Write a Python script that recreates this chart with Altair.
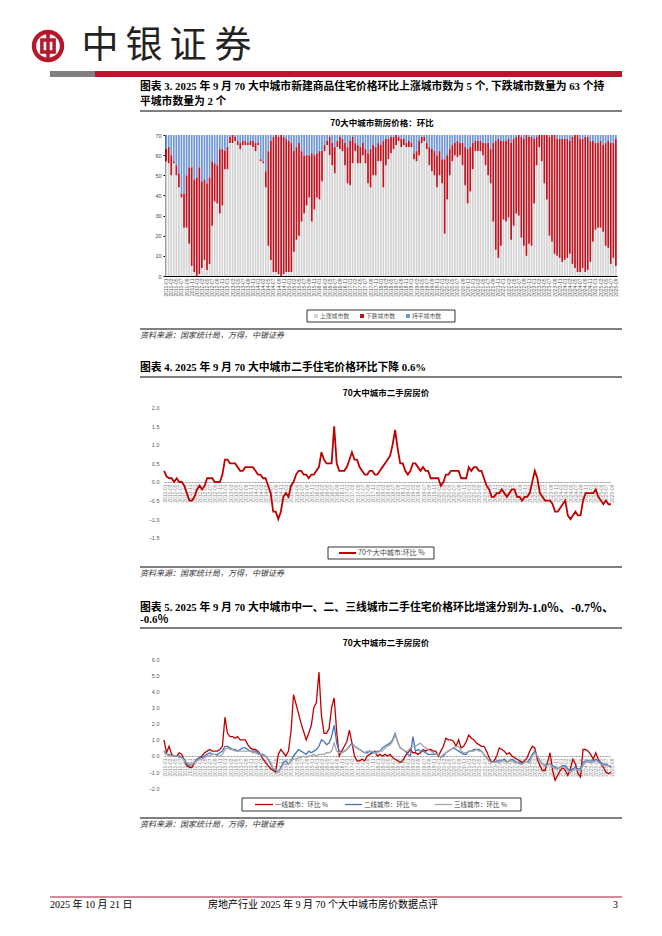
import altair as alt
import pandas as pd

# ---------------- data ----------------
months = [f"{y}-{m:02d}" for y in range(2011, 2026) for m in range(1, 13)][:177]

# Chart 1: number of cities (rising / falling / flat), monthly 2011-01 .. 2025-09
rise_cnt = [
    57, 56, 50, 56, 50, 44, 39, 24, 24, 16, 5, 2,
    0, 1, 4, 8, 3, 6, 25, 37, 36, 31, 35, 53,
    53, 66, 66, 67, 65, 63, 65, 65, 65, 65, 64, 62,
    65, 57, 56, 44, 15, 8, 2, 2, 1, 0, 1, 2,
    2, 2, 12, 18, 20, 27, 31, 35, 39, 27, 33, 39,
    38, 47, 62, 65, 60, 55, 51, 64, 63, 62, 55, 46,
    45, 56, 62, 56, 56, 60, 56, 46, 44, 50, 50, 57,
    57, 44, 55, 58, 61, 63, 65, 67, 64, 65, 64, 64,
    64, 58, 57, 60, 66, 67, 63, 55, 52, 50, 44, 50,
    46, 21, 38, 50, 57, 60, 59, 60, 55, 45, 36, 42,
    53, 62, 62, 62, 60, 55, 50, 46, 27, 13, 9, 15,
    28, 27, 29, 18, 25, 31, 30, 19, 15, 10, 16, 15,
    36, 55, 64, 57, 46, 38, 20, 17, 11, 10, 9, 7,
    8, 9, 11, 6, 4, 2, 2, 4, 2, 3, 7, 17,
    23, 24, 24, 22, 15, 14, 6, 9, 5,
]
fall_cnt = [
    6, 8, 10, 1, 5, 7, 2, 17, 26, 38, 49, 46,
    49, 53, 43, 40, 43, 43, 32, 19, 19, 32, 28, 9,
    11, 3, 4, 2, 2, 3, 2, 2, 1, 2, 3, 4,
    1, 1, 1, 8, 47, 59, 67, 68, 68, 70, 68, 66,
    65, 64, 50, 46, 46, 35, 29, 25, 21, 34, 27, 22,
    24, 15, 3, 2, 9, 11, 13, 3, 6, 6, 11, 18,
    22, 13, 4, 9, 8, 6, 7, 15, 19, 15, 14, 9,
    8, 23, 13, 10, 8, 6, 5, 2, 4, 3, 2, 3,
    2, 3, 5, 7, 3, 2, 3, 9, 11, 12, 16, 12,
    12, 37, 22, 13, 8, 6, 8, 6, 11, 19, 27, 22,
    13, 5, 5, 5, 6, 11, 16, 17, 39, 54, 59, 52,
    39, 40, 39, 48, 43, 38, 40, 50, 53, 60, 53, 54,
    32, 14, 6, 13, 24, 32, 49, 53, 59, 58, 59, 61,
    60, 59, 56, 63, 66, 68, 66, 64, 67, 66, 60, 50,
    43, 42, 43, 43, 51, 53, 60, 57, 63,
]
flat_cnt = [
    7, 6, 10, 13, 15, 19, 29, 29, 20, 16, 16, 22,
    21, 16, 23, 22, 24, 21, 13, 14, 15, 7, 7, 8,
    6, 1, 0, 1, 3, 4, 3, 3, 4, 3, 3, 4,
    4, 12, 13, 18, 8, 3, 1, 0, 1, 0, 1, 2,
    3, 4, 8, 6, 4, 8, 10, 10, 10, 9, 10, 9,
    8, 8, 5, 3, 1, 4, 6, 3, 1, 2, 4, 6,
    3, 1, 4, 5, 6, 4, 7, 9, 7, 5, 6, 4,
    5, 3, 2, 2, 1, 1, 0, 1, 2, 2, 4, 3,
    4, 9, 8, 3, 1, 1, 4, 6, 7, 8, 10, 8,
    12, 12, 10, 7, 5, 4, 3, 4, 4, 6, 7, 6,
    4, 3, 3, 3, 4, 4, 4, 7, 4, 3, 2, 3,
    3, 3, 2, 4, 2, 1, 0, 1, 2, 0, 1, 1,
    2, 1, 0, 0, 0, 0, 1, 0, 0, 2, 2, 2,
    2, 2, 3, 1, 0, 0, 2, 2, 1, 1, 3, 3,
    4, 4, 3, 5, 4, 3, 4, 4, 2,
]

# Chart 2: 70-city second-hand price MoM %
national = [
    0.3, 0.15, 0.1, 0.1, 0.0, 0.1, 0.0, 0.0, -0.1, -0.3, -0.5, -0.5,
    -0.4, -0.2, -0.1, -0.2, -0.1, 0.1, 0.1, 0.1, 0.0, 0.0, 0.0, 0.2,
    0.6, 0.6, 0.5, 0.5, 0.5, 0.4, 0.3, 0.3, 0.4, 0.4, 0.4, 0.4,
    0.3, 0.2, 0.2, 0.1, 0.1, -0.1, -0.3, -0.8, -0.8, -1.0, -0.8, -0.4,
    -0.3, -0.4, -0.1, 0.0, 0.2, 0.3, 0.3, 0.2, 0.2, 0.1, 0.2, 0.2,
    0.3, 0.4, 0.8, 0.6, 0.5, 0.5, 0.5, 1.5, 0.5, 0.3, 0.3, 0.3,
    0.4, 0.6, 0.8, 0.6, 0.6, 0.4, 0.3, 0.2, 0.2, 0.3, 0.3, 0.2,
    0.2, 0.3, 0.4, 0.5, 0.6, 0.7, 1.0, 1.4, 0.9, 0.5, 0.5, 0.3,
    0.2, 0.3, 0.5, 0.5, 0.4, 0.3, 0.4, 0.3, 0.3, 0.1, 0.1, 0.1,
    0.1, -0.1, 0.0, 0.2, 0.2, 0.3, 0.3, 0.3, 0.3, 0.1, 0.1, 0.1,
    0.4, 0.3, 0.4, 0.4, 0.3, 0.3, 0.1, -0.1, -0.2, -0.4, -0.4, -0.3,
    -0.3, -0.2, -0.3, -0.4, -0.3, -0.2, -0.2, -0.4, -0.4, -0.5, -0.4, -0.4,
    -0.3, 0.0, 0.3, 0.1, -0.3, -0.4, -0.5, -0.5, -0.5, -0.6, -0.8, -0.8,
    -0.7, -0.6, -0.5, -0.9, -1.0, -0.9, -0.8, -0.9, -0.9, -0.5, -0.3, -0.3,
    -0.3, -0.3, -0.2, -0.4, -0.5, -0.6, -0.5, -0.6, -0.6,
]

# Chart 3: tier 1 / 2 / 3 second-hand price MoM %
tier1 = [
    1.0, 0.2, 0.6, 0.1, 0.0, 0.0, 0.2, 0.1, -0.3, -0.6, -0.7, -0.7,
    -0.4, -0.2, -0.1, 0.0, 0.2, 0.3, 0.4, 0.3, 0.3, 0.3, 0.4, 0.6,
    2.4, 1.4, 1.2, 1.2, 1.1, 1.2, 1.0, 1.0, 1.0, 0.7, 0.5, 0.4,
    0.4, 0.3, 0.1, -0.2, -0.4, -0.6, -0.8, -0.9, -1.0, 0.1, 0.4, 0.2,
    0.0, 0.3, 1.5, 3.8, 3.2, 2.6, 2.0, 1.5, 1.0, 1.4, 1.9, 3.0,
    3.3, 5.2, 2.5, 1.4, 1.4, 1.7, 3.0, 3.6, 1.5, 0.0, 0.3, 0.6,
    0.9, 1.6, 0.8, 0.0, -0.3, -0.3, -0.2, -0.3, 0.0, 0.1, 0.2, 0.3,
    0.0, 0.1, 0.0, 0.1, 0.0, 0.1, -0.1, -0.2, -0.3, -0.4, -0.3, 0.0,
    0.2, 0.4, 0.2, 0.2, 0.1, 0.2, 0.4, 0.3, 0.4, 0.4, 0.3, 0.3,
    0.0, 0.3, 0.6, 1.1, 1.0, 1.0, 0.9, 0.6, 1.0, 0.5, 0.6, 0.9,
    1.3, 1.1, 1.0, 0.8, 0.7, 0.6, 0.6, 0.3, -0.1, -0.4, -0.3, 0.0,
    0.5, 0.4, 0.3, 0.1, 0.2, 0.0, -0.1, -0.2, -0.3, -0.4, -0.3, -0.1,
    0.3, 0.6, 0.5, -0.2, -0.6, -0.9, -0.9, -0.4, 0.2, -0.9, -1.5, -1.2,
    -0.9, -0.7, -0.9, -1.2, -0.8, -0.2, -0.5, -1.1, -1.3, 0.4, 0.4, 0.3,
    0.1, -0.2, 0.2, -0.2, -0.5, -0.7, -1.0, -1.1, -1.0,
]
tier2 = [
    0.3, 0.1, 0.1, 0.0, 0.0, 0.0, 0.0, -0.1, -0.2, -0.5, -0.6, -0.5,
    -0.4, -0.2, -0.1, -0.1, 0.0, 0.1, 0.2, 0.1, 0.1, 0.1, 0.2, 0.3,
    0.6, 0.6, 0.5, 0.4, 0.4, 0.3, 0.4, 0.5, 0.5, 0.4, 0.3, 0.3,
    0.3, 0.2, 0.1, 0.1, 0.0, -0.2, -0.5, -0.8, -0.9, -1.0, -0.7, -0.4,
    -0.3, -0.5, -0.3, 0.0, 0.2, 0.4, 0.3, 0.2, 0.1, 0.3, 0.2, 0.3,
    0.4, 0.6, 1.0, 0.9, 0.7, 0.8, 1.2, 1.9, 0.8, 0.3, 0.2, 0.3,
    0.4, 0.6, 0.8, 0.6, 0.5, 0.4, 0.3, 0.2, 0.2, 0.3, 0.2, 0.2,
    0.3, 0.3, 0.5, 0.6, 0.7, 0.8, 1.0, 1.4, 0.9, 0.5, 0.4, 0.3,
    0.1, 0.0, 1.2, 0.3, 0.4, 0.3, 0.3, 0.2, 0.1, 0.1, 0.1, 0.1,
    0.1, -0.1, 0.0, 0.2, 0.3, 0.4, 0.5, 0.4, 0.3, 0.2, 0.1, 0.1,
    0.3, 0.3, 0.4, 0.4, 0.4, 0.3, 0.1, -0.1, -0.3, -0.4, -0.4, -0.3,
    -0.3, -0.3, -0.2, -0.4, -0.3, -0.2, -0.3, -0.4, -0.4, -0.5, -0.4, -0.4,
    -0.2, 0.1, 0.3, 0.0, -0.3, -0.5, -0.6, -0.5, -0.5, -0.6, -0.7, -0.8,
    -0.7, -0.6, -0.6, -0.8, -0.9, -0.8, -0.7, -0.8, -0.8, -0.4, -0.3, -0.3,
    -0.3, -0.3, -0.2, -0.3, -0.4, -0.5, -0.5, -0.6, -0.7,
]
tier3 = [
    0.2, 0.1, 0.0, 0.0, 0.0, 0.0, -0.1, -0.1, -0.3, -0.4, -0.5, -0.5,
    -0.4, -0.3, -0.2, -0.2, -0.1, 0.0, 0.0, 0.1, 0.1, 0.0, 0.0, 0.1,
    0.4, 0.5, 0.4, 0.4, 0.3, 0.3, 0.3, 0.3, 0.3, 0.3, 0.3, 0.2,
    0.2, 0.1, 0.1, 0.0, 0.0, -0.2, -0.4, -0.8, -0.8, -1.0, -0.8, -0.5,
    -0.5, -0.5, -0.3, -0.2, -0.2, -0.1, -0.1, 0.0, -0.1, 0.0, 0.0, 0.1,
    0.0, 0.1, 0.1, 0.1, 0.2, 0.2, 0.3, 0.8, 0.3, 0.2, 0.2, 0.3,
    0.4, 0.6, 0.7, 0.6, 0.5, 0.4, 0.3, 0.2, 0.3, 0.3, 0.3, 0.2,
    0.2, 0.3, 0.3, 0.5, 0.6, 0.7, 0.9, 1.3, 0.9, 0.5, 0.4, 0.3,
    0.3, 0.5, 0.6, 0.6, 0.7, 0.8, 0.6, 0.5, 0.4, 0.3, 0.2, 0.1,
    0.1, -0.1, 0.1, 0.2, 0.3, 0.4, 0.5, 0.6, 0.6, 0.3, 0.2, 0.2,
    0.3, 0.3, 0.3, 0.4, 0.3, 0.3, 0.1, -0.1, -0.3, -0.4, -0.4, -0.4,
    -0.4, -0.3, -0.3, -0.4, -0.3, -0.3, -0.4, -0.4, -0.5, -0.5, -0.4, -0.4,
    -0.4, 0.0, 0.2, 0.0, -0.3, -0.5, -0.6, -0.6, -0.5, -0.7, -0.8, -0.8,
    -0.7, -0.7, -0.7, -0.9, -1.0, -0.9, -0.8, -0.9, -0.9, -0.6, -0.4, -0.4,
    -0.4, -0.4, -0.3, -0.4, -0.5, -0.6, -0.6, -0.6, -0.6,
]

for s in (rise_cnt, fall_cnt, flat_cnt, national, tier1, tier2, tier3):
    assert len(s) == len(months), len(s)

bar_types = ["上涨城市数", "下跌城市数", "持平城市数"]
bar_colors = ["#d3d3d3", "#c0131f", "#7196d4"]
tier_names = ["一线城市：环比 %", "二线城市：环比 %", "三线城市：环比 %"]
tier_colors = ["#c00000", "#4472c4", "#a6a6a6"]

# ---------------- styles ----------------
SERIF = "Liberation Serif, Noto Sans CJK SC"
CJK = "Noto Sans CJK SC"
RED = "#b5172b"
W = 646
XLAB = 5


def txt(s, x, y, size, weight="normal", align="left", color="#000", font=SERIF, style="normal"):
    return alt.Chart(pd.DataFrame({"t": [s]})).mark_text(
        align=align, baseline="middle", fontSize=size, fontWeight=weight,
        font=font, color=color, fontStyle=style
    ).encode(x=alt.value(x), y=alt.value(y), text="t:N")


def rule(x1, y1, x2, y2, color="#000", width=1.0):
    return alt.Chart(pd.DataFrame({"a": [0]})).mark_rule(color=color, strokeWidth=width).encode(
        x=alt.value(x1), x2=alt.value(x2), y=alt.value(y1), y2=alt.value(y2))


def rect(x1, y1, x2, y2, fill, stroke=None, sw=0.0):
    kw = dict(fill=fill, strokeWidth=sw)
    if stroke:
        kw["stroke"] = stroke
    return alt.Chart(pd.DataFrame({"a": [0]})).mark_rect(**kw).encode(
        x=alt.value(x1), x2=alt.value(x2), y=alt.value(y1), y2=alt.value(y2))


def dot(x, y, size, color, filled=True, shape="circle", sw=1.0):
    return alt.Chart(pd.DataFrame({"a": [0]})).mark_point(
        shape=shape, filled=filled, size=size, color=color, opacity=1, strokeWidth=sw
    ).encode(x=alt.value(x), y=alt.value(y))


SOURCE = "资料来源：国家统计局，万得，中银证券"

# ---------------- row 1: header + chart 1 ----------------
H1 = 332
long1 = pd.DataFrame({
    "month": months * 3,
    "type": [bar_types[0]] * 177 + [bar_types[1]] * 177 + [bar_types[2]] * 177,
    "ord": [0] * 177 + [1] * 177 + [2] * 177,
    "count": rise_cnt + fall_cnt + flat_cnt,
})

bars = alt.Chart(long1).mark_bar().encode(
    x=alt.X("month:O", sort=months,
            scale=alt.Scale(range=[157, 609], paddingInner=0.32, paddingOuter=0.1),
            axis=alt.Axis(title=None, values=months[::2], labelAngle=270, labelFontSize=XLAB,
                          labelColor="#555", labelOverlap=False, ticks=False, labelPadding=2,
                          domainColor="#000", domainWidth=1, offset=-(H1 - 268))),
    y=alt.Y("count:Q", stack="zero",
            scale=alt.Scale(domain=[0, 70], range=[268, 127], nice=False),
            axis=alt.Axis(title=None, values=list(range(0, 71, 10)), labelFontSize=5.5,
                          labelColor="#444", grid=False, tickSize=2, tickColor="#000",
                          domainColor="#000", labelPadding=2, offset=-157)),
    color=alt.Color("type:N", scale=alt.Scale(domain=bar_types, range=bar_colors), legend=None),
    order=alt.Order("ord:Q", sort="ascending"),
)

row1_layers = [
    # logo
    dot(40, 38, 1050, RED),
    dot(40, 38, 560, "#ffffff"),
    dot(40, 38, 150, RED, filled=False, shape="square", sw=3.5),
    rule(40, 25, 40, 51, RED, 3.5),
    # company name
    txt("中", 92, 39, 37, font=CJK, align="center", color="#222"),
    txt("银", 136, 39, 37, font=CJK, align="center", color="#222"),
    txt("证", 180, 39, 37, font=CJK, align="center", color="#222"),
    txt("券", 225, 39, 37, font=CJK, align="center", color="#222"),
    # header bar
    rect(42, 63, 87, 69, "#808080"),
    rect(87, 63, 614, 69, RED),
    # caption
    txt("图表 3. 2025 年 9 月 70 大中城市新建商品住宅价格环比上涨城市数为 5 个, 下跌城市数量为 63 个持",
        132, 79, 10.8, weight="bold"),
    txt("平城市数量为 2 个", 132, 94, 10.8, weight="bold"),
    rule(132, 103, 614, 103, "#000", 1),
    txt("70大中城市新房价格：环比", 374, 115, 8.5, weight="bold", align="center", font=CJK),
    bars,
    # legend
    rect(299, 302, 447, 314, "#ffffff", "#000", 0.8),
    rect(306, 306, 310, 310, bar_colors[0]),
    txt(bar_types[0], 312, 308, 5.8, color="#555", font=CJK),
    rect(352, 306, 356, 310, bar_colors[1]),
    txt(bar_types[1], 358, 308, 5.8, color="#555", font=CJK),
    rect(398, 306, 402, 310, bar_colors[2]),
    txt(bar_types[2], 404, 308, 5.8, color="#555", font=CJK),
    rule(132, 321, 614, 321, "#000", 1),
    txt(SOURCE, 132, 328, 8, color="#333", font=CJK, style="italic"),
]
row1 = alt.layer(*row1_layers).properties(width=W, height=H1)

# ---------------- row 2: chart 2 ----------------
H2 = 240
df2 = pd.DataFrame({"month": months, "v": national})
line2 = alt.Chart(df2).mark_line(color="#c00000", strokeWidth=1.8).encode(
    x=alt.X("month:O", sort=months,
            scale=alt.Scale(type="point", range=[156, 603], padding=0),
            axis=alt.Axis(title=None, values=months[::2], labelAngle=270, labelFontSize=XLAB,
                          labelColor="#888", labelOverlap=False, ticks=False, labelPadding=2,
                          domainColor="#999", domainDash=[2, 1], domainWidth=1,
                          offset=-(H2 - 142))),
    y=alt.Y("v:Q", scale=alt.Scale(domain=[-1.5, 2.0], range=[197.7, 67.7], nice=False),
            axis=alt.Axis(title=None, values=[-1.5, -1.0, -0.5, 0.0, 0.5, 1.0, 1.5, 2.0],
                          format=".1f", labelFontSize=5.5, labelColor="#555", grid=False,
                          ticks=False, domain=False, labelPadding=5, offset=-156)),
)
row2_layers = [
    txt("图表 4. 2025 年 9 月 70 大中城市二手住宅价格环比下降 0.6%", 132, 28, 10.8, weight="bold"),
    rule(132, 37, 614, 37, "#000", 1),
    txt("70大中城市二手房房价", 378, 53, 8.5, weight="bold", align="center", font=CJK),
    line2,
    rect(320, 207, 426, 219, "#ffffff", "#000", 0.8),
    rule(331, 213, 348, 213, "#c00000", 2),
    txt("70个大中城市:环比 %", 350, 213, 7, color="#444", font=CJK),
    rule(132, 227, 614, 227, "#000", 1),
    txt(SOURCE, 132, 234, 8, color="#333", font=CJK, style="italic"),
]
row2 = alt.layer(*row2_layers).properties(width=W, height=H2)

# ---------------- row 3: chart 3 + footer ----------------
H3 = 348
df3 = pd.DataFrame({
    "month": months * 3,
    "s": [tier_names[0]] * 177 + [tier_names[1]] * 177 + [tier_names[2]] * 177,
    "v": tier1 + tier2 + tier3,
})
line3 = alt.Chart(df3).mark_line(strokeWidth=1.3).encode(
    x=alt.X("month:O", sort=months,
            scale=alt.Scale(type="point", range=[156, 603], padding=0),
            axis=alt.Axis(title=None, values=months[::2], labelAngle=270, labelFontSize=XLAB,
                          labelColor="#888", labelOverlap=False, ticks=False, labelPadding=2,
                          domainColor="#999", domainDash=[2, 1], domainWidth=1,
                          offset=-(H3 - 176))),
    y=alt.Y("v:Q", scale=alt.Scale(domain=[-2.0, 6.0], range=[208.3, 79], nice=False),
            axis=alt.Axis(title=None, values=[-2, -1, 0, 1, 2, 3, 4, 5, 6],
                          format=".1f", labelFontSize=5.5, labelColor="#555", grid=False,
                          ticks=False, domain=False, labelPadding=5, offset=-156)),
    color=alt.Color("s:N", scale=alt.Scale(domain=tier_names, range=tier_colors), legend=None),
)
row3_layers = [
    txt("图表 5. 2025 年 9 月 70 大中城市中一、二、三线城市二手住宅价格环比增速分别为",
        132, 28, 10.8, weight="bold"),
    txt("-1.0％、-0.7％、", 520, 28, 12, weight="bold"),
    txt("-0.6％", 132, 40, 11, weight="bold"),
    rule(132, 48, 614, 48, "#000", 1),
    txt("70大中城市二手房房价", 378, 63, 8.5, weight="bold", align="center", font=CJK),
    line3,
    rect(234, 218, 513, 231, "#ffffff", "#000", 0.8),
    rule(247, 224.5, 265, 224.5, tier_colors[0], 1.3),
    txt(tier_names[0], 267, 224.5, 6.5, color="#444", font=CJK),
    rule(337, 224.5, 354, 224.5, tier_colors[1], 1.3),
    txt(tier_names[1], 356, 224.5, 6.5, color="#444", font=CJK),
    rule(427, 224.5, 444, 224.5, tier_colors[2], 1.3),
    txt(tier_names[2], 446, 224.5, 6.5, color="#444", font=CJK),
    rule(132, 238, 614, 238, "#000", 1),
    txt(SOURCE, 132, 245, 8, color="#333", font=CJK, style="italic"),
    # footer
    rule(42, 317, 614, 317, "#9e1b32", 1),
    txt("2025 年 10 月 21 日", 42, 325, 10),
    txt("房地产行业 2025 年 9 月 70 个大中城市房价数据点评", 200, 325, 10),
    txt("3", 610, 325, 10, align="right"),
]
row3 = alt.layer(*row3_layers).properties(width=W, height=H3)

chart = alt.vconcat(row1, row2, row3, spacing=0).resolve_scale(
    color="independent"
).properties(
    padding={"left": 0, "top": 0, "right": 0, "bottom": 0}
).configure_view(strokeWidth=0)

chart.save("out.html", embed_options={"renderer": "svg", "actions": False})
